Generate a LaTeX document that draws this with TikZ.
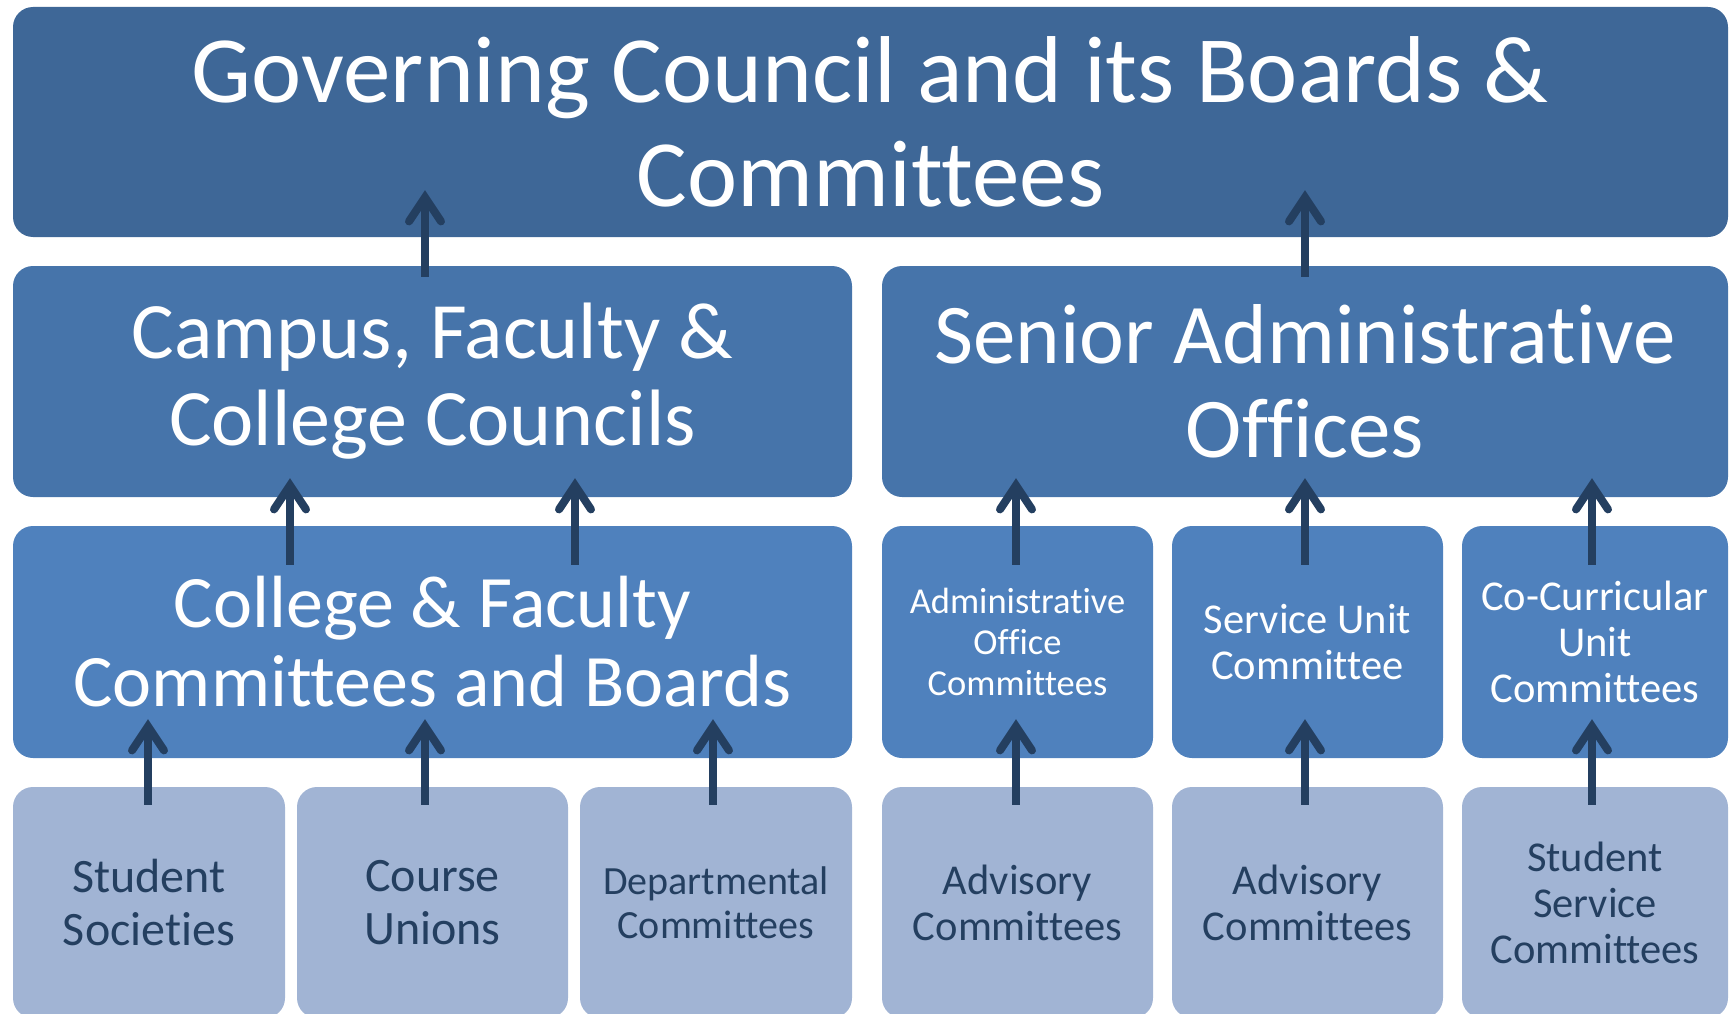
\documentclass[tikz,border=0pt]{standalone}
\usepackage{fontspec}
\setmainfont{Carlito}[Ligatures=NoCommon]
\usetikzlibrary{arrows.meta,calc}
\definecolor{cTop}{HTML}{3E6797}
\definecolor{cTwo}{HTML}{4674AA}
\definecolor{cThree}{HTML}{4F81BD}
\definecolor{cFour}{HTML}{A1B4D4}
\definecolor{cArr}{HTML}{243F60}
\tikzset{
  box/.style={rectangle, rounded corners=20pt, inner sep=0pt, align=center},
  topbox/.style={box, fill=cTop, text=white, font=\fontsize{95}{104}\selectfont},
  twobox/.style={box, fill=cTwo, text=white, font=\fontsize{80}{87}\selectfont},
  threebox/.style={box, fill=cThree, text=white},
  fourbox/.style={box, fill=cFour, text=cArr},
  uparr/.style={draw=cArr, line width=8pt, -{Straight Barb[length=24pt,width=32pt,line width=8pt,line cap=round]}}
}
\begin{document}
\begin{tikzpicture}[x=1pt,y=-1pt]
\useasboundingbox (0,0) rectangle (1730,1014);
\begin{scope}
\clip (0,0) rectangle (1730,1014);
% top
\node[topbox, minimum width=1715pt, minimum height=230pt] (gc) at (870.5,122) {Governing Council and its Boards \&\\Committees};
% row 2
\node[twobox, minimum width=839pt, minimum height=231pt] (cfc) at (432.5,381.5) {Campus, Faculty \&\\College Councils};
\node[twobox, minimum width=846pt, minimum height=231pt, font=\fontsize{85}{94}\selectfont] (sao) at (1305,381.5) {Senior Administrative\\Offices};
% row 3
\node[threebox, minimum width=839pt, minimum height=232pt, font=\fontsize{74}{79}\selectfont] (cfcb) at (432.5,642) {College \& Faculty\\Committees and Boards};
\node[threebox, minimum width=271pt, minimum height=232pt, font=\fontsize{36.5}{41}\selectfont] (aoc) at (1017.5,642) {Administrative\\Office\\Committees};
\node[threebox, minimum width=271pt, minimum height=232pt, font=\fontsize{42.5}{46}\selectfont] (suc) at (1307.5,642) {Service Unit\\Committee};
\node[threebox, minimum width=266pt, minimum height=232pt, font=\fontsize{42.5}{46}\selectfont] (ccu) at (1595,642) {Co-Curricular\\Unit\\Committees};
% row 4
\node[fourbox, minimum width=272pt, minimum height=231pt, font=\fontsize{48}{53}\selectfont] (ss) at (149,902.5) {Student\\Societies};
\node[fourbox, minimum width=271pt, minimum height=231pt, font=\fontsize{48}{53}\selectfont] (cu) at (432.5,902.5) {Course\\Unions};
\node[fourbox, minimum width=272pt, minimum height=231pt, font=\fontsize{40}{44}\selectfont] (dc) at (716,902.5) {Departmental\\Committees};
\node[fourbox, minimum width=271pt, minimum height=231pt, font=\fontsize{42.5}{46}\selectfont] (ac1) at (1017.5,902.5) {Advisory\\Committees};
\node[fourbox, minimum width=271pt, minimum height=231pt, font=\fontsize{42.5}{46}\selectfont] (ac2) at (1307.5,902.5) {Advisory\\Committees};
\node[fourbox, minimum width=266pt, minimum height=231pt, font=\fontsize{42.5}{46}\selectfont] (ssc) at (1595,902.5) {Student\\Service\\Committees};
\end{scope}
% arrows row 4 -> row 3
\draw[uparr] ($(ss.north)+(-1,18)$) -- ($(ss.north|-cfcb.south)+(-1,-39)$);
\draw[uparr] ($(cu.north)+(-7.5,18)$) -- ($(cu.north|-cfcb.south)+(-7.5,-39)$);
\draw[uparr] ($(dc.north)+(-3,18)$) -- ($(dc.north|-cfcb.south)+(-3,-39)$);
\draw[uparr] ($(ac1.north)+(-1.5,18)$) -- ($(aoc.south)+(-1.5,-39)$);
\draw[uparr] ($(ac2.north)+(-2.5,18)$) -- ($(suc.south)+(-2.5,-39)$);
\draw[uparr] ($(ssc.north)+(-3,18)$) -- ($(ccu.south)+(-3,-39)$);
% arrows row 3 -> row 2
\draw[uparr] ($(cfcb.north)+(-142.5,39)$) -- ($(cfc.south)+(-142.5,-19)$);
\draw[uparr] ($(cfcb.north)+(142.5,39)$) -- ($(cfc.south)+(142.5,-19)$);
\draw[uparr] ($(aoc.north)+(-1.5,39)$) -- ($(aoc.north|-sao.south)+(-1.5,-19)$);
\draw[uparr] ($(suc.north)+(-2.5,39)$) -- ($(suc.north|-sao.south)+(-2.5,-19)$);
\draw[uparr] ($(ccu.north)+(-3,39)$) -- ($(ccu.north|-sao.south)+(-3,-19)$);
% arrows row 2 -> top
\draw[uparr] ($(cfc.north)+(-7.5,11)$) -- ($(cfc.north|-gc.south)+(-7.5,-47)$);
\draw[uparr] ($(sao.north)+(0,11)$) -- ($(sao.north|-gc.south)+(0,-47)$);
\end{tikzpicture}
\end{document}
